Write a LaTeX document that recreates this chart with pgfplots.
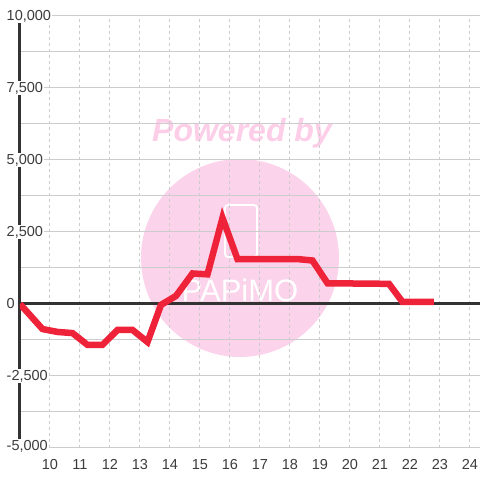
\documentclass[border=0pt]{standalone}
\usepackage{fontspec}
\setmainfont{Liberation Sans}
\usepackage{pgfplots}
\pgfplotsset{compat=1.18}

\definecolor{lineRed}{RGB}{238,34,56}
\definecolor{axisDark}{RGB}{51,51,51}
\definecolor{tickGray}{RGB}{60,60,60}
\definecolor{gridGray}{RGB}{204,204,204}
\definecolor{wmPink}{RGB}{251,212,235}
\definecolor{wmText}{RGB}{252,206,232}

\begin{document}
\begin{tikzpicture}
\begin{axis}[
    set layers,
    scale only axis,
    width=460pt, height=432pt,
    xmin=9, xmax=24.3333,
    ymin=-5000, ymax=10000,
    scaled y ticks=false,
    axis y line*=left, axis x line*=bottom,
    x axis line style={draw=none},
    y axis line style={draw=axisDark, line width=3pt},
    xtick={10,...,24},
    ytick={-5000,-2500,...,10000},
    minor ytick={-3750,-1250,1250,3750,6250,8750},
    yticklabels={{\raisebox{5pt}{-5,000}},{-2,500},0,{2,500},{5,000},{7,500},{10,000}},
    tick style={draw=none},
    major tick length=0pt, minor tick length=0pt,
    xmajorgrids, ymajorgrids, yminorgrids,
    x grid style={draw=gridGray, line width=1pt, dash pattern=on 3pt off 3pt},
    y grid style={draw=gridGray, line width=1pt, solid},
    /pgf/number format/assume math mode=true,
    xticklabel style={text=tickGray, font=\fontsize{14.5}{16}\selectfont, inner sep=0pt, yshift=-11pt},
    yticklabel style={anchor=west, xshift=-14.5pt, fill=white, inner sep=1pt,
        text=tickGray, font=\fontsize{14.5}{16}\selectfont},
]
\begin{pgfonlayer}{axis background}
  \fill[wmPink] (axis cs:16.333,1597) circle[radius=99pt];
  \node[text=wmText, font=\fontsize{32}{34}\selectfont\bfseries\itshape]
    at (axis cs:16.4,5937) {Powered by};
  % logo
  \draw[white, line width=1.8pt, rounded corners=3pt]
    (axis cs:15.833,3437) rectangle (axis cs:16.9,1632);
  \node[text=white, font=\fontsize{31}{34}\selectfont] at (axis cs:16.333,486) {PAPiMO};
\end{pgfonlayer}

% zero line
\addplot[axisDark, line width=3pt, forget plot] coordinates {(9,0) (24.3333,0)};

\addplot[lineRed, line width=6.5pt, line join=miter] coordinates {
  (9,0) (9.75,-870) (10.25,-970) (10.75,-1010) (11.25,-1420) (11.75,-1420)
  (12.25,-900) (12.75,-900) (13.25,-1320) (13.7,-30) (14.2,280)
  (14.75,1060) (15.25,1030) (15.75,2990) (16.25,1560) (18.25,1560)
  (18.75,1510) (19.25,720) (21.3,700) (21.75,70) (22.8,70)
};

\coordinate (bl) at (rel axis cs:-0.043478,-0.074074);
\coordinate (tr) at (rel axis cs:1,1.037037);
\end{axis}
\pgfresetboundingbox
\path[use as bounding box] (bl) rectangle (tr);
\end{tikzpicture}
\end{document}
